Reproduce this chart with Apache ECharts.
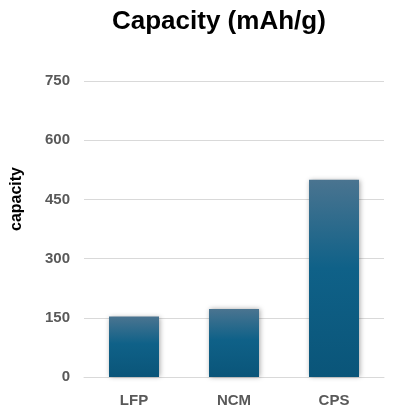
<!DOCTYPE html>
<html>
<head>
<meta charset="utf-8">
<script src="https://cdn.jsdelivr.net/npm/echarts@6/dist/echarts.min.js"></script>
<style>
  html, body { margin: 0; padding: 0; background: #fff; }
  #chart { width: 397px; height: 416px; }
</style>
</head>
<body>
<div id="chart"></div>
<script>
// data
const categories = ['LFP', 'NCM', 'CPS'];
const capacity = [153, 172, 500];
const yTicks = [0, 150, 300, 450, 600, 750];

let chart = echarts.init(document.getElementById('chart'));

chart.setOption({
  animation: false,
  textStyle: { fontFamily: 'Liberation Sans, Arial, sans-serif' },
  title: {
    text: 'Capacity (mAh/g)',
    left: 107,
    top: 4,
    textStyle: { fontSize: 26, fontWeight: 'bold', color: '#000' }
  },
  grid: { left: 84, right: 13, top: 81, bottom: 39 },
  xAxis: {
    type: 'category',
    data: categories,
    axisTick: { show: false },
    axisLine: { lineStyle: { color: '#d9d9d9' } },
    axisLabel: { color: '#595959', fontWeight: 'bold', fontSize: 15, margin: 16 }
  },
  yAxis: {
    type: 'value',
    min: yTicks[0],
    max: yTicks[yTicks.length - 1],
    interval: 150,
    name: 'capacity',
    nameLocation: 'middle',
    nameGap: 59,
    nameTextStyle: { color: '#000', fontWeight: 'bold', fontSize: 16, padding: [0, 0, 0, 60] },
    axisLine: { show: false },
    axisTick: { show: false },
    axisLabel: { color: '#595959', fontWeight: 'bold', fontSize: 15, margin: 14 },
    splitLine: { lineStyle: { color: '#d9d9d9' } }
  },
  series: [{
    type: 'bar',
    data: capacity,
    barWidth: 50,
    itemStyle: {
      color: new echarts.graphic.LinearGradient(0, 0, 0, 1, [
        { offset: 0, color: '#4a7490' },
        { offset: 0.45, color: '#0f6188' },
        { offset: 1, color: '#0a5579' }
      ]),
      shadowColor: 'rgba(0,0,0,0.35)',
      shadowBlur: 5,
      shadowOffsetX: 1,
      shadowOffsetY: 0
    }
  }]
});
</script>
</body>
</html>
